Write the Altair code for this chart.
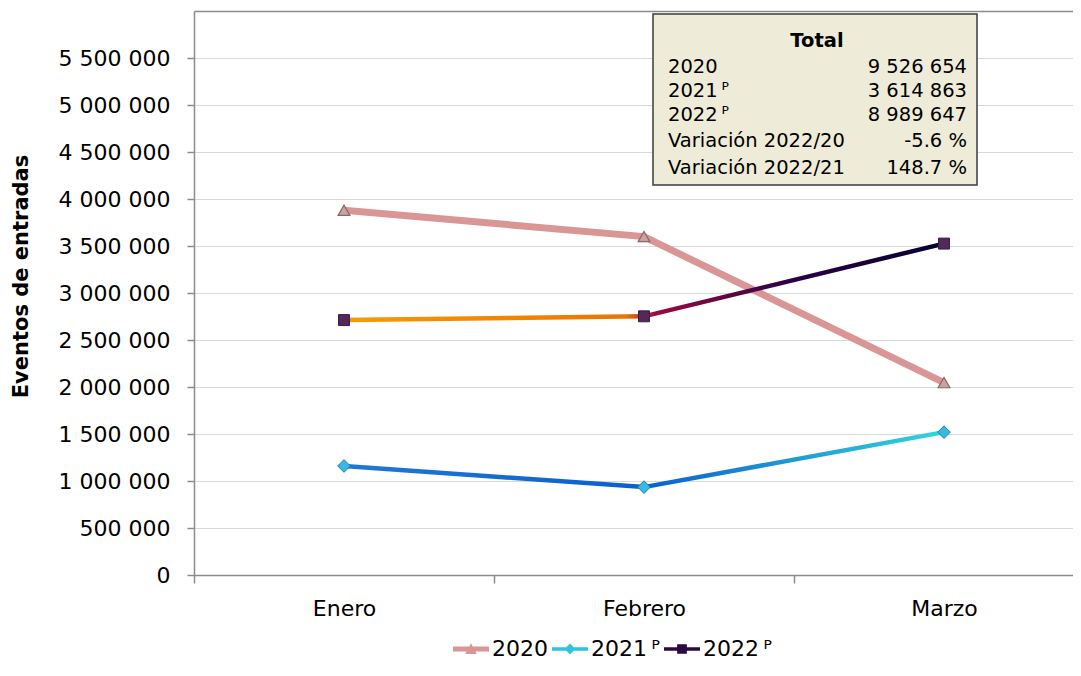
import altair as alt
import pandas as pd

# ---------------- data ----------------
months = ["Enero", "Febrero", "Marzo"]
series = ["2020", "2021\u2009ᴾ", "2022\u2009ᴾ"]
values_2020 = [3880000, 3600000, 2046654]
values_2021 = [1160000, 935000, 1519863]
values_2022 = [2712000, 2752000, 3525647]
y_ticks = [0, 500000, 1000000, 1500000, 2000000, 2500000, 3000000,
           3500000, 4000000, 4500000, 5000000, 5500000, 6000000]

table_title = "Total"
table_labels = ["2020", "2021\u2009ᴾ", "2022\u2009ᴾ", "Variación 2022/20", "Variación 2022/21"]
table_values = ["9 526 654", "3 614 863", "8 989 647", "-5.6 %", "148.7 %"]

rows = []
for s, vals in zip(series, [values_2020, values_2021, values_2022]):
    for i, (m, v) in enumerate(zip(months, vals)):
        rows.append({"i": i, "month": m, "series": s, "value": v})
df = pd.DataFrame(rows)

FONT = "DejaVu Sans"
AX = "#8c8c8c"

month_expr = "[" + ",".join("'" + m + "'" for m in months) + "][datum.value] || ''"

X = alt.X(
    "i:Q",
    scale=alt.Scale(domain=[-0.5, 2.43], nice=False, zero=False),
    axis=alt.Axis(
        values=[-0.5, 0, 0.5, 1, 1.5, 2],
        labelExpr=month_expr,
        title=None,
        grid=False,
        domainColor=AX,
        domainWidth=1.5,
        tickColor=AX,
        tickWidth=1.5,
        tickSize=8,
        tickOpacity={"condition": {"test": "datum.value % 1 != 0", "value": 1}, "value": 0},
        labelFont=FONT,
        labelFontSize=22,
        labelColor="#000000",
        labelPadding=15,
    ),
)

Y = alt.Y(
    "value:Q",
    scale=alt.Scale(domain=[0, 6000000], nice=False, zero=True),
    axis=alt.Axis(
        values=y_ticks,
        labelExpr="datum.value == 6000000 ? '' : replace(format(datum.value, ','), /,/g, ' ')",
        title="Eventos de entradas",
        titleFont=FONT,
        titleFontSize=21,
        titleFontWeight="bold",
        titleColor="#000000",
        titleX=-163,
        titleY=265,
        titleAngle=270,
        titleBaseline="bottom",
        titleAlign="center",
        grid=True,
        gridColor={"condition": {"test": "datum.value == 6000000", "value": AX}, "value": "#d9d9d9"},
        gridWidth={"condition": {"test": "datum.value == 6000000", "value": 1.5}, "value": 1},
        domainColor=AX,
        domainWidth=1.5,
        tickColor=AX,
        tickWidth=1.5,
        tickSize=7,
        tickOpacity={"condition": {"test": "datum.value == 6000000", "value": 0}, "value": 1},
        labelFont=FONT,
        labelFontSize=22,
        labelColor="#000000",
        labelPadding=17,
    ),
)

base = alt.Chart(df)

def grad(stops):
    return alt.LinearGradient(
        gradient="linear",
        stops=[alt.GradientStop(color=c, offset=o) for o, c in stops],
        x1=0, x2=1, y1=0, y2=0,
    )

line_2020 = base.transform_filter(alt.datum.series == series[0]).mark_line(
    color="#d99694", strokeWidth=7
).encode(x=X, y=Y, order="i:Q")

line_2021 = base.transform_filter(alt.datum.series == series[1]).mark_line(
    color=grad([(0, "#1f78d8"), (0.5, "#0a60cc"), (1, "#33d6dc")]), strokeWidth=4.5
).encode(x=X, y=Y, order="i:Q")

line_2022 = base.transform_filter(alt.datum.series == series[2]).mark_line(
    color=grad([(0, "#f59c00"), (0.47, "#ee7400"), (0.52, "#9a0a40"), (0.75, "#2a0045"), (1, "#050030")]),
    strokeWidth=4.5,
).encode(x=X, y=Y, order="i:Q")

pts_2020 = base.transform_filter(alt.datum.series == series[0]).mark_point(
    shape="triangle-up", filled=True, size=140, fill="#c9a3a3", stroke="#8e6464",
    strokeWidth=1.2, opacity=1
).encode(x=X, y=Y)

pts_2021 = base.transform_filter(alt.datum.series == series[1]).mark_point(
    shape="diamond", filled=True, size=160, fill="#3bb8e2", stroke="#1a7fb0",
    strokeWidth=1, opacity=1
).encode(x=X, y=Y)

pts_2022 = base.transform_filter(alt.datum.series == series[2]).mark_point(
    shape="square", filled=True, size=120, fill="#55285a", stroke="#3a1a50",
    strokeWidth=1, opacity=1
).encode(x=X, y=Y)

# legend (symbols = line + marker)
legend_colors = ["#d99694", "#2ec4de", "#2a0a40"]
legend_paths = [
    "M-1,-0.14L1,-0.14L1,0.14L-1,0.14Z M-0.32,0.28L0,-0.32L0.32,0.28Z",
    "M-1,-0.1L1,-0.1L1,0.1L-1,0.1Z M-0.3,0L0,-0.3L0.3,0L0,0.3Z",
    "M-1,-0.1L1,-0.1L1,0.1L-1,0.1Z M-0.27,-0.27L0.27,-0.27L0.27,0.27L-0.27,0.27Z",
]
leg = alt.Legend(title=None, orient="none", legendX=259, legendY=620, direction="horizontal")
legend_layer = base.transform_filter("datum.value < 0").mark_point(
    filled=True, size=1296, opacity=1
).encode(
    x=X, y=Y,
    color=alt.Color("series:N", scale=alt.Scale(domain=series, range=legend_colors), legend=leg),
    shape=alt.Shape("series:N", scale=alt.Scale(domain=series, range=legend_paths), legend=leg),
)

# summary box
box = alt.Chart(pd.DataFrame({"t": [table_title]})).mark_rect(
    fill="#eeecd8", stroke="#3c3c3c", strokeWidth=1.5
).encode(x=alt.value(459), x2=alt.value(783), y=alt.value(3), y2=alt.value(174))

title_txt = alt.Chart(pd.DataFrame({"t": [table_title]})).mark_text(
    font=FONT, fontSize=19.5, fontWeight="bold", align="center", baseline="middle", color="#000000"
).encode(text="t:N", x=alt.value(623), y=alt.value(30))

row_y = [56, 80, 104, 130, 157]
text_layers = []
for lab, val, yy in zip(table_labels, table_values, row_y):
    d = pd.DataFrame({"label": [lab], "val": [val]})
    text_layers.append(
        alt.Chart(d).mark_text(font=FONT, fontSize=19.5, align="left", baseline="middle", color="#000000")
        .encode(text="label:N", x=alt.value(474), y=alt.value(yy))
    )
    text_layers.append(
        alt.Chart(d).mark_text(font=FONT, fontSize=19.5, align="right", baseline="middle", color="#000000")
        .encode(text="val:N", x=alt.value(773), y=alt.value(yy))
    )

chart = alt.layer(
    line_2020, line_2021, line_2022, pts_2020, pts_2021, pts_2022,
    box, title_txt, *text_layers, legend_layer
).properties(
    width=879,
    height=564,
    padding={"left": 186, "top": 3, "right": 0, "bottom": 92},
    autosize=alt.AutoSizeParams(type="none"),
    background="#ffffff",
).configure_view(
    stroke=None
).configure_legend(
    labelFont=FONT,
    labelFontSize=22,
    labelColor="#000000",
    symbolSize=1296,
    symbolStrokeWidth=0,
    labelOffset=3,
    columnPadding=4,
    padding=0,
)

chart.save("out.html", embed_options={"renderer": "svg", "actions": False})
